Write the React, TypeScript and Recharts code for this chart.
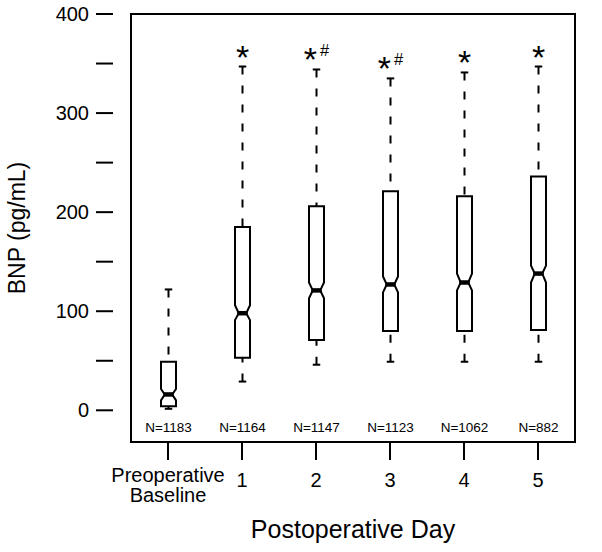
import React from 'react';
import { ComposedChart, Bar, XAxis, YAxis, ReferenceArea } from 'recharts';

const categories = ['Preoperative\nBaseline', '1', '2', '3', '4', '5'];
const whiskerLow = [1.5, 29, 46, 49, 49, 49];
const lowerQuartile = [4, 53, 71, 80, 80, 81];
const medianValues = [16, 98, 121, 127, 129, 138];
const upperQuartile = [49, 185, 206, 221, 216, 236];
const whiskerHigh = [122, 347, 344, 335, 341, 347];
const notchLow = [10, 91, 113, 119, 121, 129];
const notchHigh = [21.5, 106, 129, 135, 138, 146];
const sampleSizes = [1183, 1164, 1147, 1123, 1062, 882];
const significance = ['', '*', '*#', '*#', '*', '*'];
const yTicks = [0, 50, 100, 150, 200, 250, 300, 350, 400];
const yDomain = [-32, 400];

const FONT = '"Liberation Sans", Arial, Helvetica, sans-serif';

const data = categories.map((label, i) => ({
  label,
  range: [whiskerLow[i], whiskerHigh[i]],
  lo: whiskerLow[i],
  q1: lowerQuartile[i],
  med: medianValues[i],
  q3: upperQuartile[i],
  hi: whiskerHigh[i],
  nLo: notchLow[i],
  nHi: notchHigh[i],
  n: sampleSizes[i],
  sig: significance[i],
}));

const BoxShape = (props: any) => {
  const { x, y, width, height } = props;
  const p = props.payload ?? props;
  const lo = p.lo;
  const hi = p.hi;
  const py = (v: number) => y + (height * (hi - v)) / (hi - lo);
  const cx = x + width / 2;
  const w = width / 2;
  const nw = w / 2;
  const capW = w / 2;
  const boxPts = [
    [cx - w, py(p.q3)],
    [cx + w, py(p.q3)],
    [cx + w, py(p.nHi)],
    [cx + nw, py(p.med)],
    [cx + w, py(p.nLo)],
    [cx + w, py(p.q1)],
    [cx - w, py(p.q1)],
    [cx - w, py(p.nLo)],
    [cx - nw, py(p.med)],
    [cx - w, py(p.nHi)],
  ]
    .map((pt) => pt.join(','))
    .join(' ');
  const sig: string = p.sig || '';
  const star = sig.includes('*');
  const hash = sig.includes('#');
  return (
    <g>
      <line x1={cx} y1={py(hi)} x2={cx} y2={py(p.q3)} stroke="#000" strokeWidth={2} strokeDasharray="8 11" />
      <line x1={cx} y1={py(lo)} x2={cx} y2={py(p.q1)} stroke="#000" strokeWidth={2} strokeDasharray="8 11" />
      <line x1={cx - capW} y1={py(hi)} x2={cx + capW} y2={py(hi)} stroke="#000" strokeWidth={2} />
      <line x1={cx - capW} y1={py(lo)} x2={cx + capW} y2={py(lo)} stroke="#000" strokeWidth={2} />
      <polygon points={boxPts} fill="#fff" stroke="#000" strokeWidth={2} strokeLinejoin="miter" />
      <line x1={cx - nw - 1.5} y1={py(p.med)} x2={cx + nw + 1.5} y2={py(p.med)} stroke="#000" strokeWidth={4.5} />
      {star && (
        <text x={cx} y={py(hi) + 2} textAnchor="middle" fontFamily={FONT} fill="#000">
          <tspan fontSize={34}>*</tspan>
          {hash && (
            <tspan fontSize={16.5} dx={3} dy={-15}>
              #
            </tspan>
          )}
        </text>
      )}
      <text x={cx} y={py(0) + 22} textAnchor="middle" fontFamily={FONT} fontSize={13.5} fill="#000">
        {`N=${p.n}`}
      </text>
    </g>
  );
};

const XTick = (props: any) => {
  const { x, y, payload } = props;
  const lines = String(payload.value).split('\n');
  if (lines.length > 1) {
    return (
      <text textAnchor="middle" fontFamily={FONT} fontSize={20} fill="#000">
        <tspan x={x} y={y + 21.5}>{lines[0]}</tspan>
        <tspan x={x} y={y + 42}>{lines[1]}</tspan>
      </text>
    );
  }
  return (
    <text x={x} y={y + 26.5} textAnchor="middle" fontFamily={FONT} fontSize={20} fill="#000">
      {lines[0]}
    </text>
  );
};

const XLabel = (props: any) => {
  const vb = props.viewBox || { x: 113, y: 442, width: 480, height: 110 };
  return (
    <text x={vb.x + vb.width / 2} y={vb.y + 96} textAnchor="middle" fontFamily={FONT} fontSize={25} fill="#000">
      Postoperative Day
    </text>
  );
};

const YLabel = (props: any) => {
  const vb = props.viewBox || { x: 0, y: 14, width: 113, height: 428 };
  const cx = vb.x + 25;
  const cy = vb.y + vb.height / 2;
  return (
    <text x={cx} y={cy} transform={`rotate(-90, ${cx}, ${cy})`} textAnchor="middle" fontFamily={FONT} fontSize={23} fill="#000">
      BNP (pg/mL)
    </text>
  );
};

export default function App() {
  return (
    <div style={{ position: 'absolute', left: 0, top: 0, background: '#fff' }}>
      <ComposedChart width={602} height={552} data={data} margin={{ top: 14, right: 9, bottom: 0, left: 0 }}>
        <XAxis
          dataKey="label"
          type="category"
          height={110}
          padding={{ left: 18, right: 18 }}
          axisLine={false}
          tickLine={{ stroke: '#000', strokeWidth: 2 }}
          tickSize={18}
          tickMargin={0}
          tick={<XTick />}
          interval={0}
          label={{ content: <XLabel /> }}
        />
        <YAxis
          type="number"
          domain={yDomain}
          ticks={yTicks}
          allowDataOverflow
          width={113}
          axisLine={false}
          tickLine={{ stroke: '#000', strokeWidth: 2 }}
          tickSize={17}
          tickMargin={7}
          interval={0}
          tickFormatter={(v: number) => (v % 100 === 0 ? String(v) : '')}
          tick={{ fontSize: 20, fill: '#000', fontFamily: FONT }}
          label={{ content: <YLabel /> }}
        />
        <ReferenceArea y1={yDomain[0]} y2={yDomain[1]} fill="none" fillOpacity={0} stroke="#000" strokeWidth={2} ifOverflow="visible" />
        <Bar dataKey="range" barSize={15} fill="none" isAnimationActive={false} shape={BoxShape} />
      </ComposedChart>
    </div>
  );
}
